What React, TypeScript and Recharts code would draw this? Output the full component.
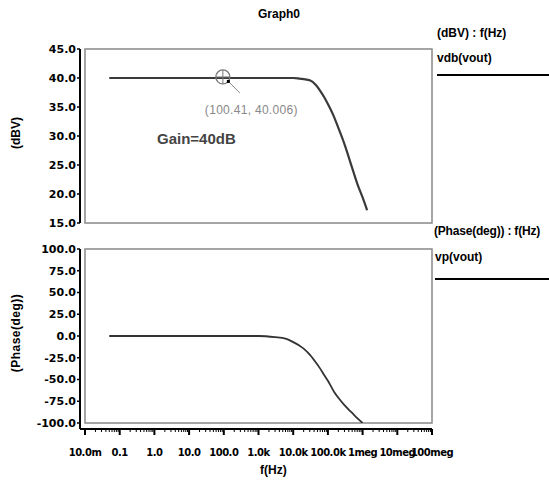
import { LineChart, Line, XAxis, YAxis, ReferenceArea, ReferenceDot } from "recharts";

// frequency sweep (Hz) and the two traces
const freqHz = [
  0.05, 0.1, 1, 10, 100, 1000, 3000, 6000, 10000, 15000, 20000, 30000, 45000,
  60000, 80000, 100000, 150000, 200000, 300000, 500000, 700000, 1000000, 1350000,
];
const vdbOut = [
  40.0, 40.0, 40.0, 40.0, 40.0, 40.0, 40.0, 40.0, 40.0, 39.9, 39.8, 39.6, 38.8,
  37.8, 36.6, 35.5, 33.3, 31.4, 28.6, 24.5, 21.8, 19.4, 17.2,
];
const vpOut = [
  0, 0, 0, 0, 0, 0, -1.3, -3.0, -7.0, -11.0, -14.5, -21.5, -30.5, -37.5, -45.5,
  -51.5, -64.0, -71.0, -79.5, -88.5, -94.5, -100.0, null,
];

const gainTicks = [15, 20, 25, 30, 35, 40, 45];
const phaseTicks = [-100, -75, -50, -25, 0, 25, 50, 75, 100];
const decadeTicks = [0.01, 0.1, 1, 10, 100, 1e3, 1e4, 1e5, 1e6, 1e7, 1e8];
const decadeLabels = [
  "10.0m", "0.1", "1.0", "10.0", "100.0", "1.0k", "10.0k", "100.0k", "1meg", "10meg", "100meg",
];
const minorSteps = [2, 3, 4, 5, 6, 7, 8, 9];

const data = freqHz.map((f, i) => ({ f, vdb: vdbOut[i], vp: vpOut[i] }));

const allTicks = [
  ...decadeTicks,
  ...decadeTicks.slice(0, -1).flatMap((d) => minorSteps.map((k) => k * d)),
];

const sans = '"Liberation Sans", Arial, sans-serif';
const tickFont = { fill: "#000", fontSize: 11, fontFamily: "DejaVu Sans", fontWeight: "bold" };

const XTick = (props: any) => {
  const { x, y, payload } = props;
  const idx = decadeTicks.indexOf(payload.value);
  if (idx < 0) {
    return <line x1={x} x2={x} y1={y} y2={y + 3} stroke="#000" strokeWidth={1} />;
  }
  return (
    <g>
      <line x1={x} x2={x} y1={y} y2={y + 6} stroke="#000" strokeWidth={2} />
      <text
        x={x}
        y={y + 27}
        textAnchor="middle"
        fontSize={10}
        letterSpacing={-0.5}
        fontFamily="DejaVu Sans"
        fontWeight="bold"
        fill="#000"
      >
        {decadeLabels[idx]}
      </text>
    </g>
  );
};

const Marker = (props: any) => {
  const { cx, cy } = props;
  return (
    <g>
      <circle cx={cx - 1} cy={cy - 1} r={7} fill="none" stroke="#777" strokeWidth={1.3} />
      <line x1={cx - 8} x2={cx + 6} y1={cy - 1} y2={cy - 1} stroke="#777" />
      <line x1={cx - 1} x2={cx - 1} y1={cy - 8} y2={cy + 6} stroke="#777" />
      <rect x={cx + 3} y={cy + 2} width={3} height={3} fill="#000" />
      <line x1={cx + 6} y1={cy + 5} x2={cx + 16} y2={cy + 15} stroke="#888" />
      <text x={cx - 19} y={cy + 36} fontSize={12} letterSpacing={0.3} fontFamily={sans} fill="#888">
        (100.41, 40.006)
      </text>
    </g>
  );
};

const label = (text: string, left: number, top: number, extra: any = {}) => (
  <div
    style={{
      position: "absolute",
      left,
      top,
      fontFamily: sans,
      fontWeight: "bold",
      fontSize: 12,
      lineHeight: "14px",
      whiteSpace: "nowrap",
      color: "#000",
      ...extra,
    }}
  >
    {text}
  </div>
);

export default function App() {
  return (
    <div style={{ position: "absolute", left: 0, top: 0, width: 549, height: 480, background: "#fff", overflow: "hidden" }}>
      {label("Graph0", 258, 7)}
      {label("(dBV) : f(Hz)", 437, 26)}
      {label("vdb(vout)", 437, 51)}
      <div style={{ position: "absolute", left: 437, top: 74, width: 112, height: 2, background: "#000" }} />
      {label("(Phase(deg)) : f(Hz)", 434, 224, { letterSpacing: -0.2 })}
      {label("vp(vout)", 435, 250)}
      <div style={{ position: "absolute", left: 435, top: 278, width: 114, height: 2, background: "#000" }} />
      {label("(dBV)", 16, 133, { transform: "translate(-50%, -50%) rotate(-90deg)" })}
      {label("(Phase(deg))", 16, 333, { transform: "translate(-50%, -50%) rotate(-90deg)", letterSpacing: 0.5 })}
      {label("f(Hz)", 260, 463)}
      {label("Gain=40dB", 157, 130, { fontSize: 15, lineHeight: "18px", color: "#444" })}

      <div style={{ position: "absolute", left: 0, top: 0 }}>
        <LineChart width={549} height={235} data={data} margin={{ top: 49, right: 117, bottom: 12, left: 0 }}>
          <XAxis dataKey="f" type="number" scale="log" domain={[0.01, 1e8]} allowDataOverflow padding={{ left: 5, right: 0 }} hide />
          <YAxis
            type="number"
            domain={[15, 45]}
            ticks={gainTicks}
            interval={0}
            width={80}
            tickSize={3}
            tickMargin={1}
            tickFormatter={(v: number) => v.toFixed(1)}
            tick={tickFont}
            axisLine={{ stroke: "#000", strokeWidth: 2 }}
            tickLine={{ stroke: "#000", strokeWidth: 1.5 }}
          />
          <ReferenceArea x1={0.01} x2={1e8} y1={15} y2={45} fill="none" stroke="#888" strokeWidth={1.5} ifOverflow="visible" />
          <Line type="monotone" dataKey="vdb" stroke="#3a3a3a" strokeWidth={2.2} dot={false} isAnimationActive={false} />
          <ReferenceDot x={100.41} y={40.006} shape={Marker} ifOverflow="visible" />
        </LineChart>
      </div>

      <div style={{ position: "absolute", left: 0, top: 240 }}>
        <LineChart width={549} height={240} data={data} margin={{ top: 9, right: 117, bottom: 11, left: 0 }}>
          <XAxis
            dataKey="f"
            type="number"
            scale="log"
            domain={[0.01, 1e8]}
            allowDataOverflow
            padding={{ left: 5, right: 0 }}
            ticks={allTicks}
            interval={0}
            height={40}
            tickSize={0}
            tickMargin={0}
            tickLine={false}
            tick={<XTick />}
            axisLine={{ stroke: "#000", strokeWidth: 2 }}
          />
          <YAxis
            type="number"
            domain={[-100, 100]}
            allowDataOverflow
            padding={{ top: 0, bottom: 6 }}
            ticks={phaseTicks}
            interval={0}
            width={80}
            tickSize={3}
            tickMargin={1}
            tickFormatter={(v: number) => v.toFixed(1)}
            tick={tickFont}
            axisLine={{ stroke: "#000", strokeWidth: 2 }}
            tickLine={{ stroke: "#000", strokeWidth: 1.5 }}
          />
          <ReferenceArea x1={0.01} x2={1e8} y1={-100} y2={100} fill="none" stroke="#888" strokeWidth={1.5} ifOverflow="visible" />
          <Line type="monotone" dataKey="vp" stroke="#333" strokeWidth={1.8} dot={false} connectNulls={false} isAnimationActive={false} />
        </LineChart>
      </div>
    </div>
  );
}
